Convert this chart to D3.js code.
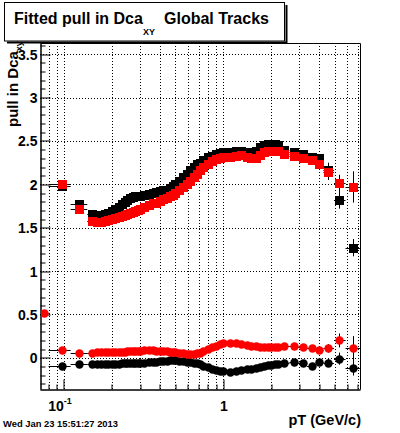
<!DOCTYPE html>
<html><head><meta charset="utf-8">
<script src="https://cdn.jsdelivr.net/npm/d3@7"></script>
<style>
body{margin:0;background:#fff}
svg{display:block}
text{font-family:"Liberation Sans",Arial,Helvetica,sans-serif;font-weight:bold;fill:#000}
</style>
</head><body><svg id="c" width="400" height="433"></svg>
<script>
// ---- data ----
const pT = [0.075, 0.097, 0.125,
  0.15,0.16,0.17,0.18,0.19,0.20,0.21,0.22,0.23,0.24,0.25,0.26,0.27,0.28,0.29,0.30,
  0.32,0.34,0.36,0.38,0.40,0.42,0.44,0.46,0.48,0.50,
  0.53,0.56,0.59,0.62,0.65,0.68,0.71,
  0.75,0.80,0.85,0.90,0.95,
  1.0,
  1.1,1.2,1.3,1.4,1.5,1.6,1.7,1.8,1.9,2.0,2.1,2.2,
  2.4,2.78,3.15,3.6,4.0,4.56,5.35,6.55];
const pTEdges = [0.07,0.08,0.11,0.14,
  0.155,0.165,0.175,0.185,0.195,0.205,0.215,0.225,0.235,0.245,0.255,0.265,0.275,0.285,0.295,0.31,
  0.33,0.35,0.37,0.39,0.41,0.43,0.45,0.47,0.49,0.515,
  0.545,0.575,0.605,0.635,0.665,0.695,0.73,
  0.775,0.825,0.875,0.925,0.975,
  1.05,
  1.15,1.25,1.35,1.45,1.55,1.65,1.75,1.85,1.95,2.05,2.15,2.25,
  2.6,2.95,3.35,3.8,4.25,4.95,5.85,7.2];
const sigmaBlack = [null, 1.98, 1.77,
  1.66,1.65,1.65,1.66,1.67,1.69,1.71,1.74,1.77,1.80,1.82,1.84,1.85,1.86,1.87,1.87,
  1.88,1.89,1.90,1.91,1.92,1.93,1.94,1.96,1.98,2.00,
  2.04,2.08,2.12,2.16,2.20,2.23,2.25,
  2.28,2.31,2.33,2.35,2.36,
  2.37,
  2.37,2.38,2.38,2.37,2.37,2.38,2.43,2.45,2.46,2.46,2.46,2.45,
  2.40,2.37,2.35,2.32,2.30,2.17,1.82,1.27];
const sigmaRed = [null, 2.00, 1.71,
  1.58,1.57,1.57,1.58,1.59,1.60,1.61,1.62,1.64,1.65,1.66,1.67,1.68,1.69,1.70,1.72,
  1.74,1.76,1.78,1.79,1.81,1.83,1.84,1.86,1.88,1.90,
  1.94,1.97,2.00,2.04,2.08,2.12,2.16,
  2.20,2.24,2.27,2.29,2.30,
  2.31,
  2.32,2.33,2.34,2.31,2.30,2.30,2.34,2.37,2.38,2.39,2.39,2.38,
  2.35,2.33,2.30,2.28,2.24,2.14,2.01,1.97];
const meanBlack = [null, -0.095, -0.075,
  -0.07,-0.07,-0.07,-0.07,-0.07,-0.07,-0.07,-0.07,-0.065,-0.065,-0.065,-0.06,-0.06,-0.06,-0.06,-0.055,
  -0.055,-0.05,-0.05,-0.045,-0.04,-0.035,-0.035,-0.03,-0.03,-0.03,
  -0.035,-0.04,-0.045,-0.05,-0.055,-0.065,-0.075,
  -0.09,-0.11,-0.13,-0.14,-0.15,
  -0.155,
  -0.16,-0.155,-0.145,-0.135,-0.125,-0.115,-0.105,-0.095,-0.085,-0.08,-0.075,-0.07,
  -0.06,-0.05,-0.065,-0.10,-0.045,-0.055,-0.01,-0.115];
const meanRed = [0.52, 0.09, 0.06,
  0.06,0.07,0.07,0.07,0.07,0.07,0.07,0.07,0.07,0.07,0.075,0.075,0.08,0.08,0.08,0.08,
  0.085,0.085,0.085,0.08,0.08,0.08,0.075,0.07,0.07,0.065,
  0.06,0.05,0.045,0.04,0.045,0.05,0.06,
  0.08,0.10,0.12,0.14,0.155,
  0.165,
  0.17,0.165,0.155,0.145,0.14,0.135,0.13,0.125,0.12,0.12,0.125,0.13,
  0.14,0.14,0.13,0.115,0.09,0.108,0.20,0.11];
const errSigmaBlack = [0, 0.02, 0.02,
  0.01,0.01,0.01,0.01,0.01,0.01,0.01,0.01,0.01,0.01,0.01,0.01,0.01,0.01,0.01,0.01,
  0.01,0.01,0.01,0.01,0.01,0.01,0.01,0.01,0.01,0.01,
  0.01,0.01,0.01,0.01,0.01,0.01,0.01,
  0.01,0.01,0.01,0.01,0.01,
  0.01,
  0.01,0.01,0.01,0.01,0.01,0.01,0.01,0.01,0.01,0.01,0.01,0.01,
  0.015,0.02,0.02,0.03,0.04,0.08,0.10,0.10];
const errSigmaRed = [0, 0.02, 0.02,
  0.01,0.01,0.01,0.01,0.01,0.01,0.01,0.01,0.01,0.01,0.01,0.01,0.01,0.01,0.01,0.01,
  0.01,0.01,0.01,0.01,0.01,0.01,0.01,0.01,0.01,0.01,
  0.01,0.01,0.01,0.01,0.01,0.01,0.01,
  0.01,0.01,0.01,0.01,0.01,
  0.01,
  0.01,0.01,0.01,0.01,0.01,0.01,0.01,0.01,0.01,0.01,0.01,0.01,
  0.015,0.02,0.02,0.03,0.04,0.09,0.10,0.18];
const errMeanBlack = [0, 0.01, 0.01,
  0.01,0.01,0.01,0.01,0.01,0.01,0.01,0.01,0.01,0.01,0.01,0.01,0.01,0.01,0.01,0.01,
  0.01,0.01,0.01,0.01,0.01,0.01,0.01,0.01,0.01,0.01,
  0.01,0.01,0.01,0.01,0.01,0.01,0.01,
  0.01,0.01,0.01,0.01,0.01,
  0.01,
  0.01,0.01,0.01,0.01,0.01,0.01,0.01,0.01,0.01,0.01,0.01,0.01,
  0.01,0.015,0.02,0.025,0.03,0.05,0.07,0.09];
const errMeanRed = [0.01, 0.01, 0.01,
  0.01,0.01,0.01,0.01,0.01,0.01,0.01,0.01,0.01,0.01,0.01,0.01,0.01,0.01,0.01,0.01,
  0.01,0.01,0.01,0.01,0.01,0.01,0.01,0.01,0.01,0.01,
  0.01,0.01,0.01,0.01,0.01,0.01,0.01,
  0.01,0.01,0.01,0.01,0.01,
  0.01,
  0.01,0.01,0.01,0.01,0.01,0.01,0.01,0.01,0.01,0.01,0.01,0.01,
  0.01,0.015,0.02,0.025,0.03,0.05,0.08,0.14];
const yMajorTicks = [0,0.5,1,1.5,2,2.5,3,3.5];
const yMinorTicks = [-0.3,-0.2,-0.1,0.1,0.2,0.3,0.4,0.6,0.7,0.8,0.9,1.1,1.2,1.3,1.4,1.6,1.7,1.8,1.9,2.1,2.2,2.3,2.4,2.6,2.7,2.8,2.9,3.1,3.2,3.3,3.4,3.6];
const yTickLabels = ["0","0.5","1","1.5","2","2.5","3","3.5"];
const xMajorTicks = [0.1, 1];
const xMinorTicks = [0.08,0.09,0.2,0.3,0.4,0.5,0.6,0.7,0.8,0.9,2,3,4,5,6,7];
const titleMain = "Fitted pull in Dca", titleSub = "XY", titleRest = "Global Tracks";
const yTitle = "pull in Dca", yTitleSub = "xy";
const xTitle = "pT (GeV/c)";
const stamp = "Wed Jan 23 15:51:27 2013";

// ---- layout ----
const F = {l:40, r:360, t:43, b:389};
const svg = d3.select("#c");
const x = d3.scaleLog().domain([0.0707, 7.21]).range([F.l, F.r]);
const y = d3.scaleLinear().domain([-0.36, 3.63]).range([F.b, F.t]);
const px = v => Math.round(x(v)) + 0.5;
const py = v => Math.round(y(v)) + 0.5;

svg.append("rect").attr("width",400).attr("height",433).attr("fill","#fff");

// grid
const grid = svg.append("g").attr("stroke","#000").attr("stroke-width",1).attr("stroke-dasharray","1,2");
grid.selectAll(".gv").data(xMajorTicks.concat(xMinorTicks)).join("line")
  .attr("x1",d=>px(d)).attr("x2",d=>px(d)).attr("y1",F.t).attr("y2",F.b);
grid.selectAll(".gh").data(yMajorTicks).join("line")
  .attr("x1",F.l).attr("x2",F.r).attr("y1",d=>py(d)).attr("y2",d=>py(d));

// axes
const yAx = svg.append("g").attr("transform",`translate(${F.l+0.5},0)`)
  .call(d3.axisLeft(y).tickValues(yMajorTicks).tickSize(-10).tickSizeOuter(0).tickPadding(3)
    .tickFormat((d,i)=>yTickLabels[i]));
svg.append("g").attr("transform",`translate(${F.l+0.5},0)`)
  .call(d3.axisLeft(y).tickValues(yMinorTicks).tickSize(-5).tickSizeOuter(0).tickFormat(""));
const xAx = svg.append("g").attr("transform",`translate(0,${F.b+0.5})`)
  .call(d3.axisBottom(x).tickValues(xMajorTicks).tickSize(-10).tickSizeOuter(0).tickPadding(10)
    .tickFormat(()=>""));
svg.append("g").attr("transform",`translate(0,${F.b+0.5})`)
  .call(d3.axisBottom(x).tickValues(xMinorTicks).tickSize(-5).tickSizeOuter(0).tickFormat(""));
svg.selectAll(".domain").attr("stroke","#000");
svg.selectAll(".tick line").attr("stroke","#000");
svg.selectAll(".tick").attr("transform", function(){
  const t = d3.select(this).attr("transform");
  return t.replace(/translate\(([-\d.]+),([-\d.]+)\)/, (m,a,b)=>`translate(${Math.round(+a)},${Math.round(+b)})`);
});
yAx.selectAll("text").attr("font-size",14).attr("font-family",null).attr("dy","0.36em").attr("x",-3);
// x labels with superscript
xAx.selectAll(".tick text").each(function(d){
  const t = d3.select(this).attr("font-size",14).attr("font-family",null).attr("dy",null).attr("y",21);
  if (d === 0.1) {
    t.text(null);
    t.append("tspan").attr("dx","-4").text("10");
    t.append("tspan").attr("font-size",9).attr("dy",-7).text("-1");
  } else t.text("1");
});

// frame right/top
svg.append("path").attr("d",`M${F.l+0.5},${F.t+0.5}H${F.r+0.5}V${F.b+0.5}`)
  .attr("fill","none").attr("stroke","#000");

// data
svg.append("clipPath").attr("id","clip").append("rect")
  .attr("x",F.l+1).attr("y",F.t+1).attr("width",F.r-F.l-1).attr("height",F.b-F.t-1);
const plot = svg.append("g").attr("clip-path","url(#clip)");

function series(vals, errs, color, shape){
  const pts = pT.map((p,i)=>({p, v:vals[i], e:errs[i], lo:pTEdges[i], hi:pTEdges[i+1]}))
    .filter(d=>d.v!==null);
  const g = plot.append("g");
  g.selectAll(".eh").data(pts).join("line")
    .attr("x1",d=>x(d.lo)).attr("x2",d=>x(d.hi))
    .attr("y1",d=>py(d.v)).attr("y2",d=>py(d.v)).attr("stroke","#000");
  g.selectAll(".ev").data(pts).join("line")
    .attr("x1",d=>px(d.p)).attr("x2",d=>px(d.p))
    .attr("y1",d=>y(d.v+d.e)).attr("y2",d=>y(d.v-d.e)).attr("stroke","#000");
  if (shape==="square") {
    g.selectAll(".m").data(pts).join("rect")
      .attr("x",d=>Math.round(x(d.p))-4).attr("y",d=>Math.round(y(d.v))-4)
      .attr("width",9).attr("height",9).attr("fill",color);
  } else {
    g.selectAll(".m").data(pts).join("circle")
      .attr("cx",d=>Math.round(x(d.p))+0.5).attr("cy",d=>Math.round(y(d.v))+0.5)
      .attr("r",4.2).attr("fill",color);
  }
}
series(sigmaBlack, errSigmaBlack, "#000", "square");
series(meanBlack, errMeanBlack, "#000", "circle");
series(sigmaRed, errSigmaRed, "#ff0000", "square");
series(meanRed, errMeanRed, "#ff0000", "circle");

// axis titles
const yt = svg.append("text").attr("transform","translate(18,127) rotate(-90)")
  .attr("font-size",15);
yt.append("tspan").text(yTitle);
yt.append("tspan").attr("font-size",9).attr("dy",4).text(yTitleSub);
svg.append("text").attr("x",361).attr("y",425).attr("text-anchor","end")
  .attr("font-size",14.5).text(xTitle);
svg.append("text").attr("x",3).attr("y",426.5).attr("font-size",9.4).text(stamp);

// title box
svg.append("path").attr("d","M7,42.5H286.5V5").attr("fill","none").attr("stroke","#000").attr("stroke-width",2);
svg.append("rect").attr("x",4.5).attr("y",2.5).attr("width",280).attr("height",38.5)
  .attr("fill","#fff").attr("stroke","#000");
const tt = svg.append("text").attr("x",14).attr("y",24).attr("font-size",16);
tt.append("tspan").text(titleMain);
tt.append("tspan").attr("x",143).attr("y",35).attr("font-size",9).text(titleSub);
tt.append("tspan").attr("x",164).attr("y",24).text(titleRest);
</script>
</body></html>
